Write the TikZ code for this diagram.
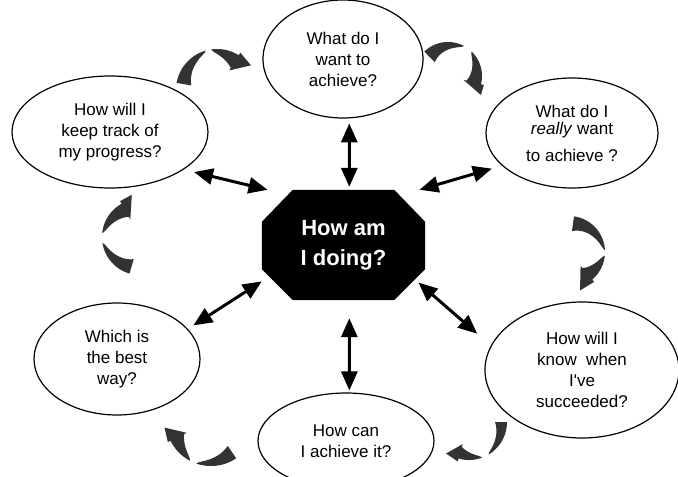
\documentclass[tikz,border=0pt]{standalone}
\usepackage{fontspec}
\setmainfont{Liberation Sans}
\usetikzlibrary{shapes.geometric,arrows.meta,backgrounds}

% band thickness and barb overhang of the curved cycle arrows
\def\cycw{15}
\def\cyce{3}
% curved cycle arrow: #1,#2 centre; #3 outer radius; #4 tail start; #5 tail end;
% #6 head start; #7 head base; #8 tip angle; #9 tip radius
\newcommand\cyclearrow[9]{%
  \fill[cyclefill]
    plot[domain=0:1,samples=30] ({#1+(#3)*cos(#4+(#5-#4)*\x)},{#2+(#3)*sin(#4+(#5-#4)*\x)})
    -- plot[domain=0:1,samples=30] ({#1+(#3-\cycw*(0.5*\x+0.5*sqrt(\x)))*cos(#5+(#4-#5)*\x)},{#2+(#3-\cycw*(0.5*\x+0.5*sqrt(\x)))*sin(#5+(#4-#5)*\x)})
    -- cycle;
  \fill[cyclefill]
    plot[domain=0:1,samples=30] ({#1+(#3)*cos(#6+(#7-#6)*\x)},{#2+(#3)*sin(#6+(#7-#6)*\x)})
    -- ({#1+(#3+\cyce)*cos(#7)},{#2+(#3+\cyce)*sin(#7)})
    -- ({#1+(#9)*cos(#8)},{#2+(#9)*sin(#8)})
    -- ({#1+(#3-\cycw-\cyce)*cos(#7)},{#2+(#3-\cycw-\cyce)*sin(#7)})
    -- plot[domain=0:1,samples=30] ({#1+(#3-\cycw*(0.5*(1-\x)+0.5*sqrt(1-\x)))*cos(#7+(#6-#7)*\x)},{#2+(#3-\cycw*(0.5*(1-\x)+0.5*sqrt(1-\x)))*sin(#7+(#6-#7)*\x)})
    -- cycle;}

\begin{document}
\begin{tikzpicture}[x=1pt,y=-1pt,
  q/.style={ellipse, draw, line width=1.2pt, inner sep=0pt, align=center,
            font=\fontsize{17}{21}\selectfont},
  hubstyle/.style={rectangle, inner sep=0pt, minimum width=163pt, minimum height=110pt,
            align=center, text=white, font=\bfseries\fontsize{22}{30}\selectfont},
  dbl/.style={line width=3pt, {Triangle[length=19pt,width=16pt]}-{Triangle[length=19pt,width=16pt]}},
  cyclefill/.style={fill=black!80}]
\useasboundingbox (0,0) rectangle (678,477);

% questions around the hub
\node[q, minimum width=160pt, minimum height=118pt] (want) at (343,59) {What do I\\want to\\achieve?};
\node[q, minimum width=172pt, minimum height=110pt] (really) at (572,133) {What do I\\[-4pt]\textit{really} want\\[6pt]to achieve ?};
\node[q, minimum width=196pt, minimum height=112pt] (track) at (110,132) {How will I\\keep track of\\my progress?};
\node[q, minimum width=166pt, minimum height=112pt] (best) at (117,359) {Which is\\the best\\way?};
\node[q, minimum width=176pt, minimum height=96pt] (howcan) at (346,441) {How can\\I achieve it?};
\node[q, minimum width=194pt, minimum height=136pt] (succ) at (582,370) {How will I\\know\ \ when\\I\textquotesingle ve\\succeeded?};

% central octagon
\node[hubstyle] (hub) at (343.5,245) {How am\\I doing?};
\begin{scope}[on background layer]
  \fill[white] (0,0) rectangle (678,477);
  \fill ([xshift=31pt]hub.north west) -- ([xshift=-31pt]hub.north east)
     -- ([yshift=-32pt]hub.north east) -- ([yshift=31pt]hub.south east)
     -- ([xshift=-31pt]hub.south east) -- ([xshift=31pt]hub.south west)
     -- ([yshift=31pt]hub.south west) -- ([yshift=-32pt]hub.north west) -- cycle;
\end{scope}

% two-way links between the hub and each question
\draw[dbl, shorten <=5pt, shorten >=3pt] (want.276) -- (hub.84);
\draw[dbl, shorten >=10.5pt] (hub.36) -- (really.205);
\draw[dbl, shorten >=10.5pt] (hub.144) -- (track.333);
\draw[dbl, shorten >=6.5pt] (hub.204) -- (best.23);
\draw[dbl, shorten <=18pt, shorten >=2pt] (hub.276) -- (howcan.86);
\draw[dbl, shorten <=-9pt, shorten >=18pt] (hub.332) -- (succ.165);

% curved arrows running clockwise round the cycle
\cyclearrow{217}{90}{41}{190}{254}{262}{302}{324}{42}
\cyclearrow{448}{76}{34}{226}{298}{314}{374}{390}{38}
\cyclearrow{569}{252}{36}{278}{357}{366}{410}{434}{40}
\def\cycw{12}
\cyclearrow{469}{422}{38}{0}{59}{70}{106}{126}{39}
\def\cycw{15}
\cyclearrow{211}{421}{45}{56}{109}{118}{154}{172}{47}
\cyclearrow{140}{237}{38}{106}{171}{186}{241}{259}{43}
\end{tikzpicture}
\end{document}
